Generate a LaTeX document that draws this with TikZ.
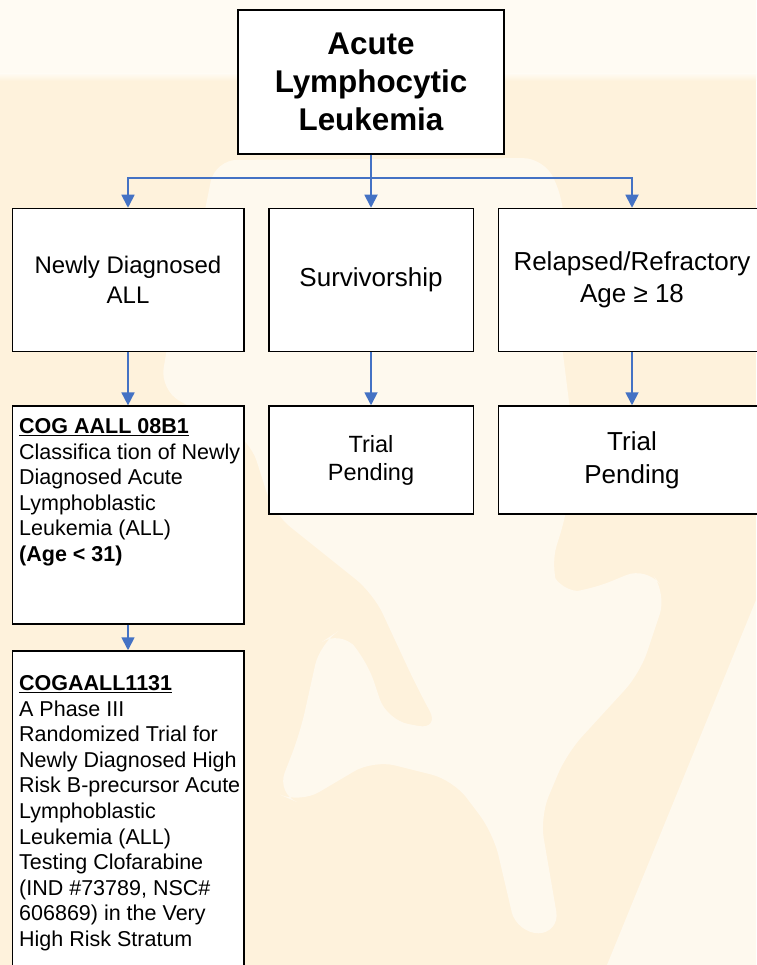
\documentclass[tikz,border=0pt]{standalone}
\usepackage{fontspec}
\setmainfont{Liberation Sans}
\usetikzlibrary{arrows.meta}
\definecolor{cream}{HTML}{FEF2DC}
\definecolor{pale}{HTML}{FFFBF3}
\definecolor{linkblue}{HTML}{4472C4}
\tikzset{
  box/.style={draw=black,line width=1.5pt,fill=white,inner sep=0pt,align=center},
  link/.style={draw=linkblue,line width=1.8pt},
  arrow/.style={link,-{Triangle[width=13pt,length=13pt]}},
  bodytext/.style={anchor=north west,inner sep=0pt,align=left,font=\fontsize{21.5}{25.6}\selectfont},
  wmark/.style={fill=pale,fill opacity=0.8,rounded corners=22pt},
}
\begin{document}
\begin{tikzpicture}[x=1pt,y=-1pt]
\useasboundingbox (0,0) rectangle (756,965);
% background
\fill[cream] (0,0) rectangle (756,965);
\fill[pale] (0,0) rectangle (756,74);
\shade[top color=pale,bottom color=cream] (0,73.5) rectangle (756,81);
\path[wmark] (200,235) -- (215,160) -- (545,158) -- (565,205) -- (560,330) -- (575,450) -- (566.7,513.3) -- (550,566.7) -- (560,593.3) -- (590,590) -- (646.7,566.7) -- (666.7,593.3) -- (640,673.3) -- (566.7,753.3) -- (540,816.7) -- (560,933.3) -- (516.7,933.3) -- (493.3,833.3) -- (453.3,780) -- (373.3,760) -- (300,803.3) -- (276.7,793.3) -- (300,733.3) -- (320,643.3) -- (340,630) -- (366.7,660) -- (386.7,720) -- (440,730) -- (416.7,686.7) -- (373.3,593.3) -- (273.3,513.3) -- (250,440) -- (160,390) -- (170,330) -- (200,300) -- cycle;
\path[wmark,rounded corners=0pt] (756,600) -- (607,965) -- (756,965) -- cycle;
% boxes
\node[box,minimum width=266pt,minimum height=144pt,font=\fontsize{31.4}{38.3}\selectfont\bfseries] (top) at (371,82) {Acute\\Lymphocytic\\Leukemia};
\node[box,minimum width=231.5pt,minimum height=143pt,font=\fontsize{24}{30}\selectfont] (nda) at (128,280) {Newly Diagnosed\\ALL};
\node[box,minimum width=204.5pt,minimum height=143pt,font=\fontsize{26}{31}\selectfont] (surv) at (371,280) {Survivorship};
\node[box,minimum width=267pt,minimum height=143pt,font=\fontsize{26}{32}\selectfont] (rel) at (632,280) {Relapsed/Refractory\\Age ≥ 18};
\node[box,minimum width=231.5pt,minimum height=217.7pt] (cog1) at (128,515) {};
\node[box,minimum width=204.5pt,minimum height=108pt,font=\fontsize{23.5}{28}\selectfont] (tp1) at (371,460) {Trial\\Pending};
\node[box,minimum width=267pt,minimum height=108pt,font=\fontsize{26}{33}\selectfont] (tp2) at (632,460) {Trial\\Pending};
\node[box,minimum width=231.5pt,minimum height=334pt] (cog2) at (128,818) {};
% box texts
\node[bodytext] (cog1t) at (19,418.3) {\textbf{\underline{COG AALL 08B1}}\\Classifica tion of Newly\\Diagnosed Acute\\Lymphoblastic\\Leukemia (ALL)\\\textbf{(Age < 31)}};
\node[bodytext] (cog2t) at (19,675.2) {\textbf{\underline{COGAALL1131}}\\A Phase III\\Randomized Trial for\\Newly Diagnosed High\\Risk B-precursor Acute\\Lymphoblastic\\Leukemia (ALL)\\Testing Clofarabine\\(IND \#73789, NSC\#\\606869) in the Very\\High Risk Stratum};
% connectors
\coordinate (j) at (371,178);
\draw[link] (top.south) -- (j);
\draw[arrow] (j) -| (nda.north);
\draw[arrow] (j) -- (surv.north);
\draw[arrow] (j) -| (rel.north);
\draw[arrow] (nda.south) -- (cog1.north);
\draw[arrow] (surv.south) -- (tp1.north);
\draw[arrow] (rel.south) -- (tp2.north);
\draw[arrow] (cog1.south) -- (cog2.north);
\end{tikzpicture}
\end{document}
